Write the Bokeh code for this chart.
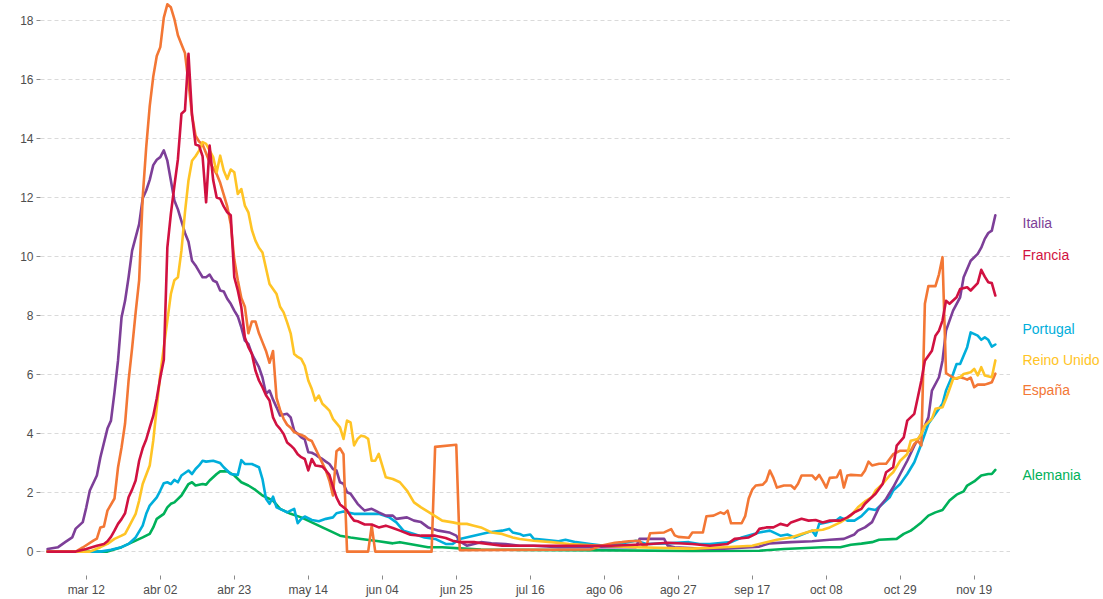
from bokeh.plotting import figure
from bokeh.layouts import row
from bokeh.models import Range1d, FixedTicker
from bokeh.core.properties import value
from bokeh.embed import file_html
from bokeh.resources import INLINE

# (days since 2020-03-01, value)
italia = [(0,0.09),(3,0.15),(5,0.32),(7,0.48),(8,0.78),(10,1.0),(11,1.5),(12,2.07),(14,2.58),(15,3.2),
    (17,4.17),(18,4.44),(19,5.4),(20,6.47),(21,7.94),(22,8.5),(23,9.3),(24,10.2),(26,11.1),(27,11.97),
    (28,12.24),(29,12.6),(30,13.1),(31,13.28),(32,13.37),(33,13.6),(34,13.25),(35,12.58),(36,11.9),(37,11.6),
    (38,11.2),(39,10.8),(40,10.5),(41,9.86),(42,9.7),(43,9.5),(44,9.3),(45,9.3),(46,9.39),(47,9.19),
    (48,9.13),(49,8.85),(50,8.82),(51,8.57),(52,8.4),(53,8.17),(54,7.97),(55,7.6),(56,7.15),(57,7.04),
    (58,6.7),(59,6.47),(60,6.25),(61,5.9),(62,5.35),(63,5.46),(64,5.15),(65,4.89),(66,4.61),(67,4.65),
    (68,4.67),(69,4.55),(70,4.1),(71,3.99),(72,3.87),(73,3.8),(74,3.37),(75,3.35),(76,3.29),(77,3.2),
    (78,3.14),(79,3.05),(80,2.97),(81,2.8),(82,2.75),(83,2.35),(84,2.3),(85,2.01),(86,1.96),(87,1.79),
    (88,1.62),(89,1.5),(90,1.39),(92,1.45),(94,1.33),(96,1.22),(98,1.22),(99,1.11),(102,1.16),(104,1.05),
    (106,1.0),(108,0.82),(111,0.71),(114,0.65),(116,0.54),(117,0.35),(119,0.2),(123,0.32),(126,0.28),(130,0.26),
    (134,0.2),(138,0.2),(145,0.15),(155,0.15),(167,0.15),(168,0.43),(175,0.43),(176,0.2),(178,0.15),(185,0.1),
    (192,0.1),(202,0.17),(205,0.28),(211,0.32),(217,0.35),(222,0.4),(226,0.43),(229,0.58),(230,0.71),(232,0.82),
    (234,1.0),(236,1.5),(238,1.79),(240,2.18),(242,2.63),(244,3.08),(246,3.59),(248,3.99),(250,4.55),(251,5.46),
    (253,5.91),(254,6.47),(255,7.49),(257,8.17),(259,8.62),(260,9.3),(262,9.86),(264,10.09),(265,10.3),(266,10.6),
    (267,10.8),(268,10.88),(269,11.4)]

francia = [(0,0.0),(8,0.0),(11,0.09),(14,0.2),(16,0.26),(17,0.35),(18,0.5),(19,0.71),(20,0.94),(21,1.1),
    (22,1.3),(23,1.84),(24,2.1),(25,2.41),(26,3.08),(27,3.5),(28,3.8),(29,4.21),(30,4.6),(31,5.2),
    (32,5.9),(33,6.5),(34,10.3),(35,11.45),(36,12.4),(37,13.3),(38,14.84),(39,14.95),(40,16.87),(41,14.8),
    (42,13.8),(43,13.76),(44,13.4),(45,11.84),(46,13.76),(47,12.6),(48,12.0),(49,11.96),(50,11.7),(51,11.5),
    (52,11.4),(53,9.3),(54,8.85),(55,8.28),(56,7.26),(57,6.93),(58,6.7),(59,6.14),(60,5.8),(61,5.57),
    (62,5.3),(63,5.12),(64,4.55),(65,4.3),(66,4.16),(67,3.99),(68,3.7),(69,3.6),(70,3.48),(71,3.3),
    (72,3.2),(73,3.14),(74,2.75),(75,3.14),(76,2.92),(77,2.9),(78,2.88),(79,2.75),(80,2.6),(81,2.2),
    (82,1.84),(83,1.6),(84,1.5),(85,1.4),(86,1.2),(87,1.05),(88,1.03),(90,0.92),(92,0.92),(94,0.82),
    (96,0.88),(98,0.8),(100,0.71),(103,0.57),(106,0.54),(110,0.54),(113,0.46),(115,0.37),(117,0.32),(121,0.32),
    (125,0.26),(129,0.2),(134,0.2),(150,0.2),(160,0.2),(170,0.25),(176,0.3),(183,0.26),(188,0.2),(193,0.26),
    (195,0.43),(199,0.48),(201,0.6),(202,0.77),(204,0.82),(206,0.82),(208,0.94),(210,0.88),(211,0.99),(214,1.11),
    (216,1.05),(218,1.07),(220,0.99),(222,1.05),(225,1.05),(227,1.16),(229,1.33),(231,1.45),(232,1.62),(234,1.85),
    (235,1.96),(237,2.29),(238,2.69),(240,2.86),(241,3.59),(243,3.87),(244,4.44),(246,4.67),(247,5.23),(248,5.8),
    (249,6.47),(251,6.81),(252,7.32),(253,7.49),(254,7.83),(255,8.5),(256,8.4),(258,8.62),(259,8.9),(261,8.96),
    (262,8.85),(264,9.1),(265,9.55),(266,9.32),(267,9.13),(268,9.1),(269,8.68)]

portugal = [(0,0.0),(15,0.0),(18,0.06),(21,0.15),(23,0.26),(25,0.48),(27,0.88),(28,1.28),(29,1.56),(31,1.84),
    (32,2.07),(33,2.32),(34,2.35),(35,2.29),(36,2.43),(37,2.35),(38,2.58),(40,2.75),(41,2.63),(42,2.8),
    (43,2.92),(44,3.08),(45,3.05),(47,3.08),(49,3.0),(50,2.86),(52,2.63),(54,2.6),(55,3.1),(56,2.97),
    (58,2.97),(60,2.86),(61,2.46),(62,1.79),(63,1.62),(64,1.86),(65,1.5),(67,1.39),(68,1.33),(70,1.45),
    (71,0.96),(72,1.11),(73,1.19),(75,1.07),(77,1.03),(79,1.11),(81,1.16),(82,1.3),(84,1.36),(85,1.33),
    (87,1.28),(89,1.28),(94,1.28),(97,1.16),(99,0.99),(101,0.71),(104,0.6),(107,0.48),(110,0.43),(113,0.26),
    (115,0.26),(117,0.43),(121,0.54),(125,0.65),(129,0.71),(131,0.77),(132,0.65),(134,0.6),(135,0.54),(137,0.58),
    (138,0.43),(141,0.4),(145,0.35),(147,0.4),(150,0.32),(154,0.26),(158,0.2),(162,0.26),(167,0.37),(170,0.26),
    (176,0.28),(182,0.32),(185,0.26),(188,0.26),(194,0.32),(197,0.48),(202,0.65),(205,0.71),(208,0.54),(210,0.58),
    (212,0.48),(215,0.62),(217,0.71),(218,0.54),(219,0.94),(221,0.99),(224,1.07),(225,1.16),(227,1.05),(229,1.05),
    (231,1.2),(233,1.45),(235,1.41),(237,1.62),(239,1.84),(240,2.07),(242,2.29),(244,2.63),(246,3.03),(248,3.65),
    (250,4.33),(252,4.67),(254,5.01),(255,5.46),(257,6.02),(258,6.36),(259,6.36),(261,6.93),(262,7.43),(264,7.32),
    (265,7.18),(266,7.26),(267,7.18),(268,6.95),(269,7.02)]

reino_unido = [(0,0.0),(12,0.0),(15,0.15),(17,0.26),(19,0.43),(21,0.54),(22,0.6),(23,0.82),(25,1.28),(26,1.73),
    (27,2.29),(29,2.92),(30,3.76),(31,4.89),(32,6.02),(33,6.93),(34,7.83),(35,8.73),(36,9.2),(37,9.3),
    (38,10.2),(39,11.5),(40,12.58),(41,13.25),(42,13.4),(43,13.59),(44,13.88),(45,13.82),(46,13.6),(47,13.37),
    (48,12.86),(49,13.42),(50,12.92),(51,12.63),(52,12.95),(53,12.86),(54,12.12),(55,12.29),(56,11.73),(57,11.5),
    (58,10.9),(59,10.54),(60,10.3),(61,10.14),(63,9.07),(64,8.9),(65,8.73),(66,8.3),(67,8.11),(68,7.77),
    (69,7.4),(70,6.7),(71,6.6),(72,6.53),(73,6.3),(74,5.8),(75,5.51),(76,5.12),(77,5.29),(78,5.01),
    (79,4.9),(80,4.78),(81,4.5),(83,4.21),(84,3.82),(85,4.44),(86,4.38),(87,3.6),(88,3.82),(89,3.93),
    (90,3.9),(91,3.82),(92,3.08),(93,3.08),(94,3.31),(96,2.52),(98,2.46),(100,2.35),(102,2.07),(104,1.67),
    (106,1.5),(109,1.28),(112,1.05),(115,0.99),(117,0.94),(119,0.94),(121,0.88),(123,0.82),(126,0.65),(129,0.6),
    (132,0.48),(134,0.43),(138,0.37),(143,0.32),(148,0.26),(157,0.2),(167,0.15),(183,0.1),(192,0.15),(200,0.2),
    (204,0.32),(207,0.4),(211,0.48),(214,0.6),(217,0.71),(220,0.74),(222,0.82),(225,0.99),(228,1.22),(230,1.5),
    (232,1.7),(234,1.85),(235,2.07),(237,2.29),(239,2.58),(240,2.69),(242,3.08),(244,3.31),(245,3.76),(247,3.82),
    (248,3.99),(249,4.27),(251,4.5),(252,4.84),(254,4.89),(255,5.18),(256,5.51),(257,5.85),(259,5.91),(260,6.02),
    (262,6.08),(263,6.19),(264,5.97),(265,6.25),(266,5.97),(268,5.91),(269,6.48)]

espana = [(0,0.0),(8,0.0),(10,0.14),(13,0.37),(14,0.44),(15,0.82),(16,0.85),(17,1.39),(19,1.8),(20,2.85),
    (21,3.53),(22,4.34),(23,5.8),(24,6.9),(25,8.1),(26,9.2),(27,12.0),(28,13.7),(29,15.1),(30,16.1),
    (31,16.8),(32,17.1),(33,18.1),(34,18.55),(35,18.45),(36,18.05),(37,17.5),(38,17.2),(39,16.9),(40,15.9),
    (41,14.8),(42,14.1),(43,13.9),(44,13.8),(45,13.5),(46,13.2),(47,13.0),(48,12.8),(49,12.5),(50,12.1),
    (51,11.7),(52,11.1),(53,9.9),(54,9.2),(55,8.6),(56,8.3),(57,7.4),(58,7.8),(59,7.8),(60,7.4),
    (61,7.1),(62,6.8),(63,6.4),(64,6.8),(65,5.2),(66,4.8),(67,4.5),(68,4.3),(69,4.2),(70,4.05),
    (71,4.0),(72,3.95),(73,3.9),(74,3.8),(75,3.75),(76,3.5),(77,3.25),(78,3.0),(79,2.75),(80,2.4),
    (81,1.9),(82,3.4),(83,3.5),(84,3.3),(85,0.0),(91,0.0),(92,0.88),(93,0.0),(109,0.0),(110,3.55),
    (116,3.62),(117,0.05),(154,0.07),(155,0.1),(157,0.2),(159,0.25),(161,0.3),(163,0.32),(165,0.35),(168,0.37),
    (169,0.2),(170,0.2),(171,0.62),(175,0.65),(177,0.76),(178,0.55),(179,0.5),(182,0.47),(183,0.65),(186,0.65),
    (187,1.2),(189,1.22),(191,1.33),(192,1.28),(193,1.39),(194,0.96),(197,0.96),(198,1.2),(199,1.8),(200,2.1),
    (201,2.24),(203,2.27),(204,2.4),(205,2.75),(206,2.5),(207,2.17),(209,2.24),(211,2.24),(212,2.13),(213,2.3),
    (214,2.58),(217,2.58),(218,2.45),(219,2.6),(220,2.4),(221,2.17),(222,2.5),(224,2.52),(225,2.75),(226,2.17),
    (227,2.58),(228,2.6),(231,2.58),(232,2.75),(233,3.05),(234,2.92),(236,2.98),(238,2.98),(240,3.3),(242,3.42),
    (245,3.42),(246,3.65),(247,3.76),(248,3.6),(249,8.4),(250,9.0),(252,9.0),(253,9.4),(254,9.98),(255,6.05),
    (256,5.97),(257,5.9),(258,5.86),(259,5.91),(260,5.88),(261,5.83),(262,5.9),(263,5.57),(264,5.66),(266,5.66),
    (267,5.7),(268,5.74),(269,6.03)]

alemania = [(0,0.0),(17,0.0),(21,0.15),(23,0.26),(25,0.37),(27,0.48),(29,0.6),(30,0.82),(31,1.11),(33,1.28),
    (34,1.5),(35,1.62),(36,1.67),(38,1.9),(40,2.29),(41,2.35),(42,2.24),(44,2.29),(45,2.27),(46,2.41),
    (47,2.52),(48,2.63),(49,2.72),(51,2.72),(53,2.58),(55,2.35),(57,2.24),(59,2.09),(61,1.9),(64,1.73),
    (66,1.45),(69,1.28),(72,1.16),(75,0.99),(78,0.82),(80,0.71),(83,0.54),(86,0.48),(89,0.43),(94,0.35),
    (98,0.28),(100,0.32),(104,0.23),(108,0.15),(112,0.15),(117,0.11),(123,0.07),(134,0.06),(160,0.04),(183,0.02),
    (202,0.03),(209,0.09),(220,0.15),(225,0.15),(228,0.23),(231,0.27),(234,0.32),(236,0.4),(241,0.43),(243,0.6),
    (245,0.71),(246,0.8),(248,0.99),(250,1.22),(252,1.33),(254,1.41),(256,1.73),(258,1.93),(260,2.04),(261,2.24),
    (263,2.38),(265,2.58),(267,2.63),(268,2.63),(269,2.77)]

tick_days = [11, 32, 53, 74, 95, 116, 137, 158, 179, 200, 221, 242, 263]
tick_labels = ["mar 12", "abr 02", "abr 23", "may 14", "jun 04", "jun 25", "jul 16",
               "ago 06", "ago 27", "sep 17", "oct 08", "oct 29", "nov 19"]
y_ticks = [0, 2, 4, 6, 8, 10, 12, 14, 16, 18]

# drawing order, colours and (repelled) label heights
series = [
    ("Alemania", alemania, "#00b159", 2.61),
    ("Portugal", portugal, "#00aedb", 7.53),
    ("Italia", italia, "#7d3f98", 11.15),
    ("España", espana, "#f37735", 5.49),
    ("Reino Unido", reino_unido, "#ffc425", 6.5),
    ("Francia", francia, "#d11141", 10.07),
]

FONT = "Liberation Sans"
H = 599
BOTTOM = 24

yr = Range1d(-0.81, 18.68)

p = figure(width=1010, height=H, output_backend="svg", toolbar_location=None,
           x_range=Range1d(-2, 273.3), y_range=yr,
           min_border_left=40, min_border_right=0, min_border_top=0, min_border_bottom=BOTTOM)
p.outline_line_color = None

p.xgrid.grid_line_color = None
p.ygrid.ticker = FixedTicker(ticks=y_ticks)
p.ygrid.grid_line_color = "#dadada"
p.ygrid.grid_line_dash = "4 3"
p.ygrid.grid_line_width = 1

p.xaxis.ticker = FixedTicker(ticks=tick_days)
p.xaxis.major_label_overrides = {d: l for d, l in zip(tick_days, tick_labels)}
p.yaxis.ticker = FixedTicker(ticks=y_ticks)

for ax in (p.xaxis[0], p.yaxis[0]):
    ax.axis_line_color = None
    ax.minor_tick_line_color = None
    ax.major_tick_in = 0
    ax.major_tick_out = 4
    ax.major_tick_line_color = "#8a8a8a"
    ax.major_label_text_font = FONT
    ax.major_label_text_font_size = "12px"
    ax.major_label_text_color = "#4d4d4d"
p.yaxis.major_label_standoff = 3
p.xaxis.major_label_standoff = 3

# side panel for the series names, sharing the y scale
q = figure(width=93, height=H, output_backend="svg", toolbar_location=None,
           x_range=Range1d(0, 93), y_range=yr, x_axis_type=None, y_axis_type=None,
           min_border_left=0, min_border_right=0, min_border_top=0, min_border_bottom=BOTTOM)
q.outline_line_color = None
q.grid.visible = False

for name, data, color, ly in series:
    xs = [d for d, v in data]
    ys = [v for d, v in data]
    p.line(xs, ys, line_width=2.6, color=color, line_join="round", line_cap="round")
    q.text(x=[12], y=[ly], text=[name], text_color=color, text_font=value(FONT),
           text_font_size="14px", text_baseline="middle", text_align="left")

layout = row(p, q, spacing=0)
open("out.html", "w").write(file_html(layout, INLINE))
